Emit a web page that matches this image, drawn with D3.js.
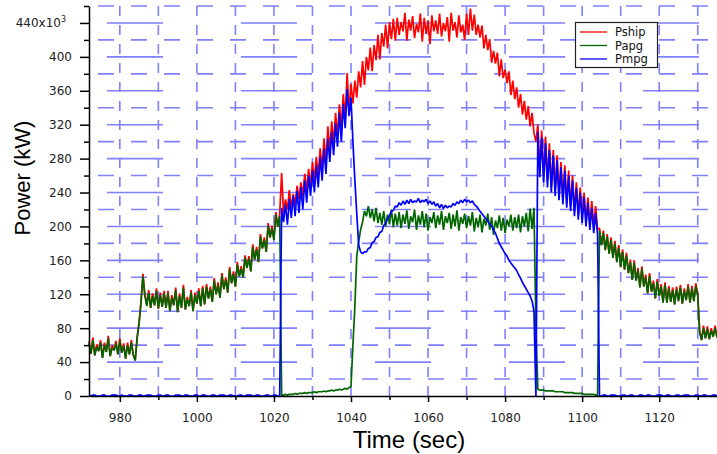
<!DOCTYPE html>
<html><head><meta charset="utf-8">
<script src="https://cdn.jsdelivr.net/npm/d3@7"></script>
<style>body{margin:0;background:#fff;overflow:hidden}</style>
</head><body><svg id="c" width="717" height="454"></svg>
<script>
// time axis: first sample and sample spacing (sec)
const tStart = 972, tStep = 0.5;

const pship = [
65,50,69,48,61,53,66,45,63,52,71,47,60,54,65,49,68,51,62,44,
63,49,66,48,42,70,87,112,144,120,108,125,104,121,107,127,103,122,105,124,
104,124,100,119,107,128,99,121,104,131,102,117,106,125,100,122,109,127,106,130,
108,132,115,129,111,139,120,134,116,145,126,140,122,152,133,147,129,158,141,153,
140,166,151,165,147,179,161,176,158,191,174,187,170,204,187,201,184,217,200,215,
263,215,232,220,243,222,238,226,248,232,252,236,262,242,268,248,276,254,282,260,
292,268,304,276,318,290,324,298,334,306,344,316,356,328,381,336,368,345,372,352,
383,364,395,367,400,384,411,383,414,396,426,397,428,412,438,410,441,421,445,419,
446,426,441,430,452,419,444,431,448,422,439,429,451,418,446,427,443,415,449,430,
443,427,451,424,440,430,447,418,452,431,441,423,449,429,438,420,451,426,457,431,
450,426,438,423,437,410,426,408,421,393,407,392,405,377,397,375,385,369,383,355,
372,350,364,340,356,332,348,326,342,318,334,310,300,320,266,313,260,306,254,298,
246,290,242,284,237,276,232,272,228,266,224,260,218,252,214,246,210,240,206,234,
204,230,200,224,196,198,178,195,172,191,168,187,163,183,158,178,152,173,149,169,
145,161,137,160,136,151,128,153,129,143,121,145,123,136,115,138,118,132,110,134,
110,130,111,128,108,129,112,131,109,127,113,132,110,130,112,133,120,77,66,83,
68,82,67,80,70,83,69
];

const papg = [
62,50,66,48,58,53,63,45,60,52,68,47,57,54,62,49,65,51,59,44,
60,49,63,48,42,68,85,110,141,118,106,122,104,118,107,124,103,119,105,121,
104,121,100,116,107,125,99,118,104,128,102,114,106,122,100,119,109,124,106,127,
108,129,115,126,111,136,120,131,116,142,126,137,122,149,133,144,129,155,141,150,
140,163,151,162,147,176,161,173,158,188,174,184,170,201,187,198,184,214,200,212,
1,1,2,1,2,2,2,3,2,3,3,3,4,3,4,4,4,5,4,5,
5,5,6,5,6,6,7,6,7,7,8,7,8,9,8,10,11,60,105,165,
182,196,205,218,212,224,210,220,206,222,204,216,202,218,200,214,203,220,199,215,
201,217,198,214,203,219,197,212,205,220,196,213,202,218,199,215,195,211,204,217,
198,213,202,218,196,212,204,216,197,214,200,219,195,211,203,215,198,212,201,217,
194,210,199,214,193,209,201,215,196,211,190,207,198,213,195,210,192,208,200,214,
195,211,198,214,193,212,200,216,194,221,197,222,80,8,7,7,7,6,6,6,
6,6,5,5,5,5,5,4,4,4,4,4,3,3,3,3,3,2,2,2,
2,2,2,1,1,195,178,192,172,188,168,184,163,180,158,175,152,170,149,166,
145,158,137,157,136,148,128,150,129,140,121,142,123,133,115,135,118,129,110,131,
110,127,111,125,108,126,112,128,109,124,113,129,110,127,112,130,118,74,66,80,
68,79,67,77,70,80,69
];

const pmpg = [
0,0,1,1,0,0,0,1,1,0,0,0,1,1,1,0,0,1,0,0,
0,1,1,0,0,0,1,1,0,0,1,1,1,0,0,0,1,1,0,0,
1,1,0,0,0,1,1,1,0,0,1,1,0,0,0,1,1,0,0,1,
1,0,0,0,1,1,0,0,1,1,1,0,0,1,1,0,0,0,1,1,
0,0,1,1,1,0,0,1,1,0,0,0,1,1,0,0,1,1,0,0,
222,205,226,202,232,210,236,212,242,216,246,220,254,228,260,236,266,240,272,246,
282,254,292,262,304,276,312,284,322,294,334,300,344,316,362,330,352,300,255,215,
178,170,168,170,170,174,175,181,182,187,188,193,194,201,204,210,213,218,219,224,
223,228,225,230,226,231,227,232,228,230,229,233,228,231,229,232,227,230,226,229,
224,227,222,226,221,225,222,224,223,227,225,229,227,231,228,232,229,231,228,230,
226,224,221,218,215,212,209,206,203,200,196,192,186,180,176,172,168,165,160,157,
154,151,148,143,139,134,130,126,122,118,112,100,0,312,258,305,252,298,246,290,
240,284,236,278,231,270,226,266,222,260,218,254,212,246,208,240,204,234,200,228,
196,222,192,216,190,0,0,1,1,0,0,1,1,1,0,0,0,1,1,0,
0,1,1,0,0,0,1,1,0,0,1,1,0,0,0,1,1,1,0,0,
1,1,0,0,0,1,1,0,0,1,1,1,0,0,0,1,1,0,0,1,
1,0,0,0,1,1,0
];

const seriesNames = ["Pship", "Papg", "Pmpg"];
const seriesColors = ["#ff0000", "#006600", "#0000ff"];
const xMajorTicks = [980, 1000, 1020, 1040, 1060, 1080, 1100, 1120];
const xMinorTicks = [990, 1010, 1030, 1050, 1070, 1090, 1110, 1130];
const yMajorTicks = [0, 40, 80, 120, 160, 200, 240, 280, 320, 360, 400, 440];
const yTickLabels = ["0", "40", "80", "120", "160", "200", "240", "280", "320", "360", "400", "440x10"];
const yMinorTicks = [20, 60, 100, 140, 180, 220, 260, 300, 340, 380, 420, 460];
const xTitle = "Time (sec)";
const yTitle = "Power (kW)";

const svg = d3.select("#c");
const x = d3.scaleLinear().domain([972, 1135]).range([89, 717]);
const y = d3.scaleLinear().domain([0, 460]).range([396, 6]);
const gridColor = "#7f7fff";

// grid
const grid = svg.append("g");
grid.selectAll("line.hmin").data(yMinorTicks).join("line")
  .attr("x1", 89).attr("x2", 717).attr("y1", d => y(d)).attr("y2", d => y(d))
  .attr("stroke", gridColor).attr("stroke-width", 1.6)
  .attr("stroke-dasharray", "16,17").attr("stroke-dashoffset", 24);
grid.selectAll("line.hmaj").data(yMajorTicks.filter(d => d > 0)).join("line")
  .attr("x1", 89).attr("x2", 717).attr("y1", d => y(d)).attr("y2", d => y(d))
  .attr("stroke", gridColor).attr("stroke-width", 1.6)
  .attr("stroke-dasharray", "56,78").attr("stroke-dashoffset", 116);
grid.selectAll("line.v").data(xMajorTicks.concat(xMinorTicks)).join("line")
  .attr("x1", d => x(d)).attr("x2", d => x(d)).attr("y1", 6).attr("y2", 396)
  .attr("stroke", gridColor).attr("stroke-width", 1.6)
  .attr("stroke-dasharray", "10,9");

// data
const time = pship.map((_, i) => tStart + i * tStep);
const line = d3.line().x((d, i) => x(time[i])).y(d => y(d));
[pship, papg, pmpg].forEach((s, k) => {
  svg.append("path").datum(s).attr("d", line)
    .attr("fill", "none").attr("stroke", seriesColors[k])
    .attr("stroke-width", 1.7).attr("stroke-linejoin", "bevel");
});

// axes
const tickFont = "'DejaVu Sans', sans-serif";
const yAxis = svg.append("g").attr("transform", "translate(89,0)")
  .call(d3.axisLeft(y).tickValues(yMajorTicks).tickSize(9).tickSizeOuter(0).tickPadding(8)
    .tickFormat((d, i) => yTickLabels[i]));
svg.append("g").attr("transform", "translate(89,0)")
  .call(d3.axisLeft(y).tickValues(yMinorTicks).tickSize(5).tickSizeOuter(0).tickFormat(""))
  .select(".domain").remove();
yAxis.selectAll("text").filter((d) => d === 440).each(function() {
  d3.select(this).attr("dx", "-6").append("tspan").attr("dy", "-5").attr("font-size", 8).text("3");
});
const xAxis = svg.append("g").attr("transform", "translate(0,396)")
  .call(d3.axisBottom(x).tickValues(xMajorTicks).tickSize(6).tickSizeOuter(0).tickPadding(11)
    .tickFormat(d3.format("d")));
svg.append("g").attr("transform", "translate(0,396)")
  .call(d3.axisBottom(x).tickValues(xMinorTicks).tickSize(4).tickSizeOuter(0).tickFormat(""))
  .select(".domain").remove();
svg.selectAll(".domain, .tick line").attr("stroke", "#000").attr("stroke-width", 1.5);
svg.selectAll(".tick text").attr("font-family", tickFont).attr("font-size", 12).attr("fill", "#222");

// titles
svg.append("text").attr("x", 409).attr("y", 448).attr("text-anchor", "middle")
  .attr("font-family", "'Liberation Sans', Arial, sans-serif").attr("font-size", 24).text(xTitle);
svg.append("text").attr("transform", "translate(30,178) rotate(-90)").attr("text-anchor", "middle")
  .attr("font-family", "'Liberation Sans', Arial, sans-serif").attr("font-size", 22).text(yTitle);

// legend
const lg = svg.append("g");
lg.append("rect").attr("x", 575.5).attr("y", 22.5).attr("width", 82).attr("height", 45)
  .attr("fill", "#fff").attr("stroke", "#222").attr("stroke-width", 1.2);
const ly = [32, 45.5, 59];
seriesNames.forEach((n, i) => {
  lg.append("line").attr("x1", 580).attr("x2", 607).attr("y1", ly[i]).attr("y2", ly[i])
    .attr("stroke", seriesColors[i]).attr("stroke-width", 1.3);
  lg.append("text").attr("x", 615).attr("y", ly[i] + 4).attr("font-family", tickFont)
    .attr("font-size", 11.5).attr("fill", "#111").text(n);
});
</script></body></html>
